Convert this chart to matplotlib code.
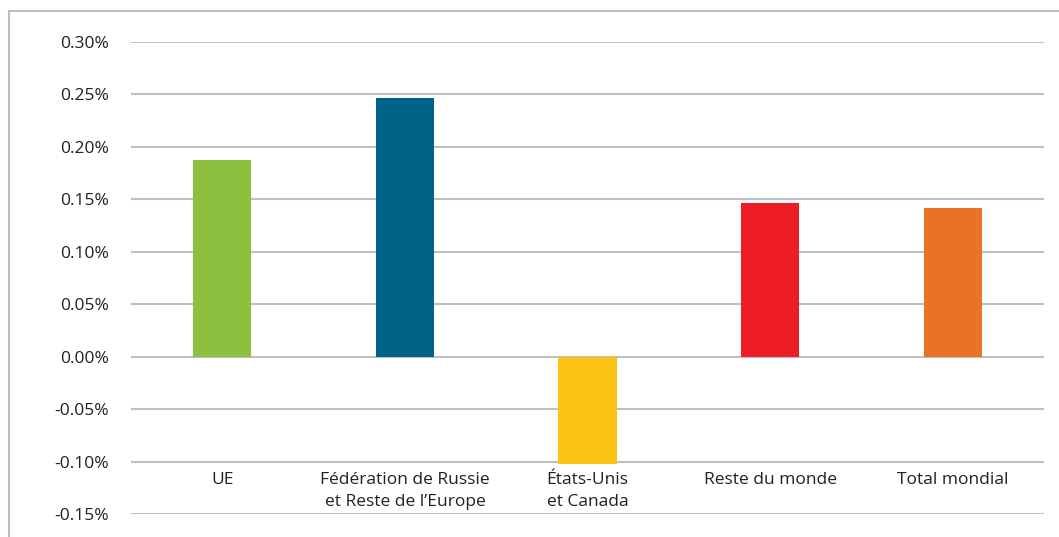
import matplotlib.pyplot as plt
from matplotlib.lines import Line2D
import numpy as np

categories = ["UE", "Fédération de Russie\net Reste de l\u2019Europe", "États-Unis\net Canada",
              "Reste du monde", "Total mondial"]
values = [0.187, 0.246, -0.102, 0.146, 0.142]
colors = ["#8DC03F", "#006489", "#FCC314", "#EE1C25", "#E87324"]
yticks = [-0.15, -0.10, -0.05, 0.0, 0.05, 0.10, 0.15, 0.20, 0.25, 0.30]

plt.rcParams['font.family'] = ['Open Sans', 'DejaVu Sans']

W, H = 1059, 537
fig = plt.figure(figsize=(W / 100, H / 100), dpi=100)
ax = fig.add_axes([131 / W, 1 - 514.2 / H, (1044 - 131) / W, (514.2 - 41.7) / H])

x = np.arange(len(categories))
ax.bar(x, values, width=0.318, color=colors, zorder=3)

ax.set_xlim(-0.5, len(categories) - 0.5)
ax.set_ylim(-0.15, 0.30)
ax.set_yticks(yticks)
ax.set_yticklabels([f"{v:.2f}%" for v in yticks], fontsize=12.5, color="#231F20")
ax.tick_params(axis='y', length=0, pad=16)
ax.set_xticks([])
ax.grid(axis='y', color="#BEBEC3", linewidth=1.5, zorder=0)
for s in ax.spines.values():
    s.set_visible(False)

# category labels sit just below the -0.10 line
for xi, lab in zip(x, categories):
    ax.text(xi, -0.1095, lab, ha='center', va='top', fontsize=12.5, color="#231F20",
            linespacing=1.5)

# light frame round the figure (top and left)
fig.add_artist(Line2D([9 / W, 1], [1 - 11 / H, 1 - 11 / H], transform=fig.transFigure,
                      color="#BDBDBD", lw=1.5))
fig.add_artist(Line2D([9 / W, 9 / W], [0, 1 - 11 / H], transform=fig.transFigure,
                      color="#BDBDBD", lw=1.5))

fig.savefig("out.png", dpi=100)
